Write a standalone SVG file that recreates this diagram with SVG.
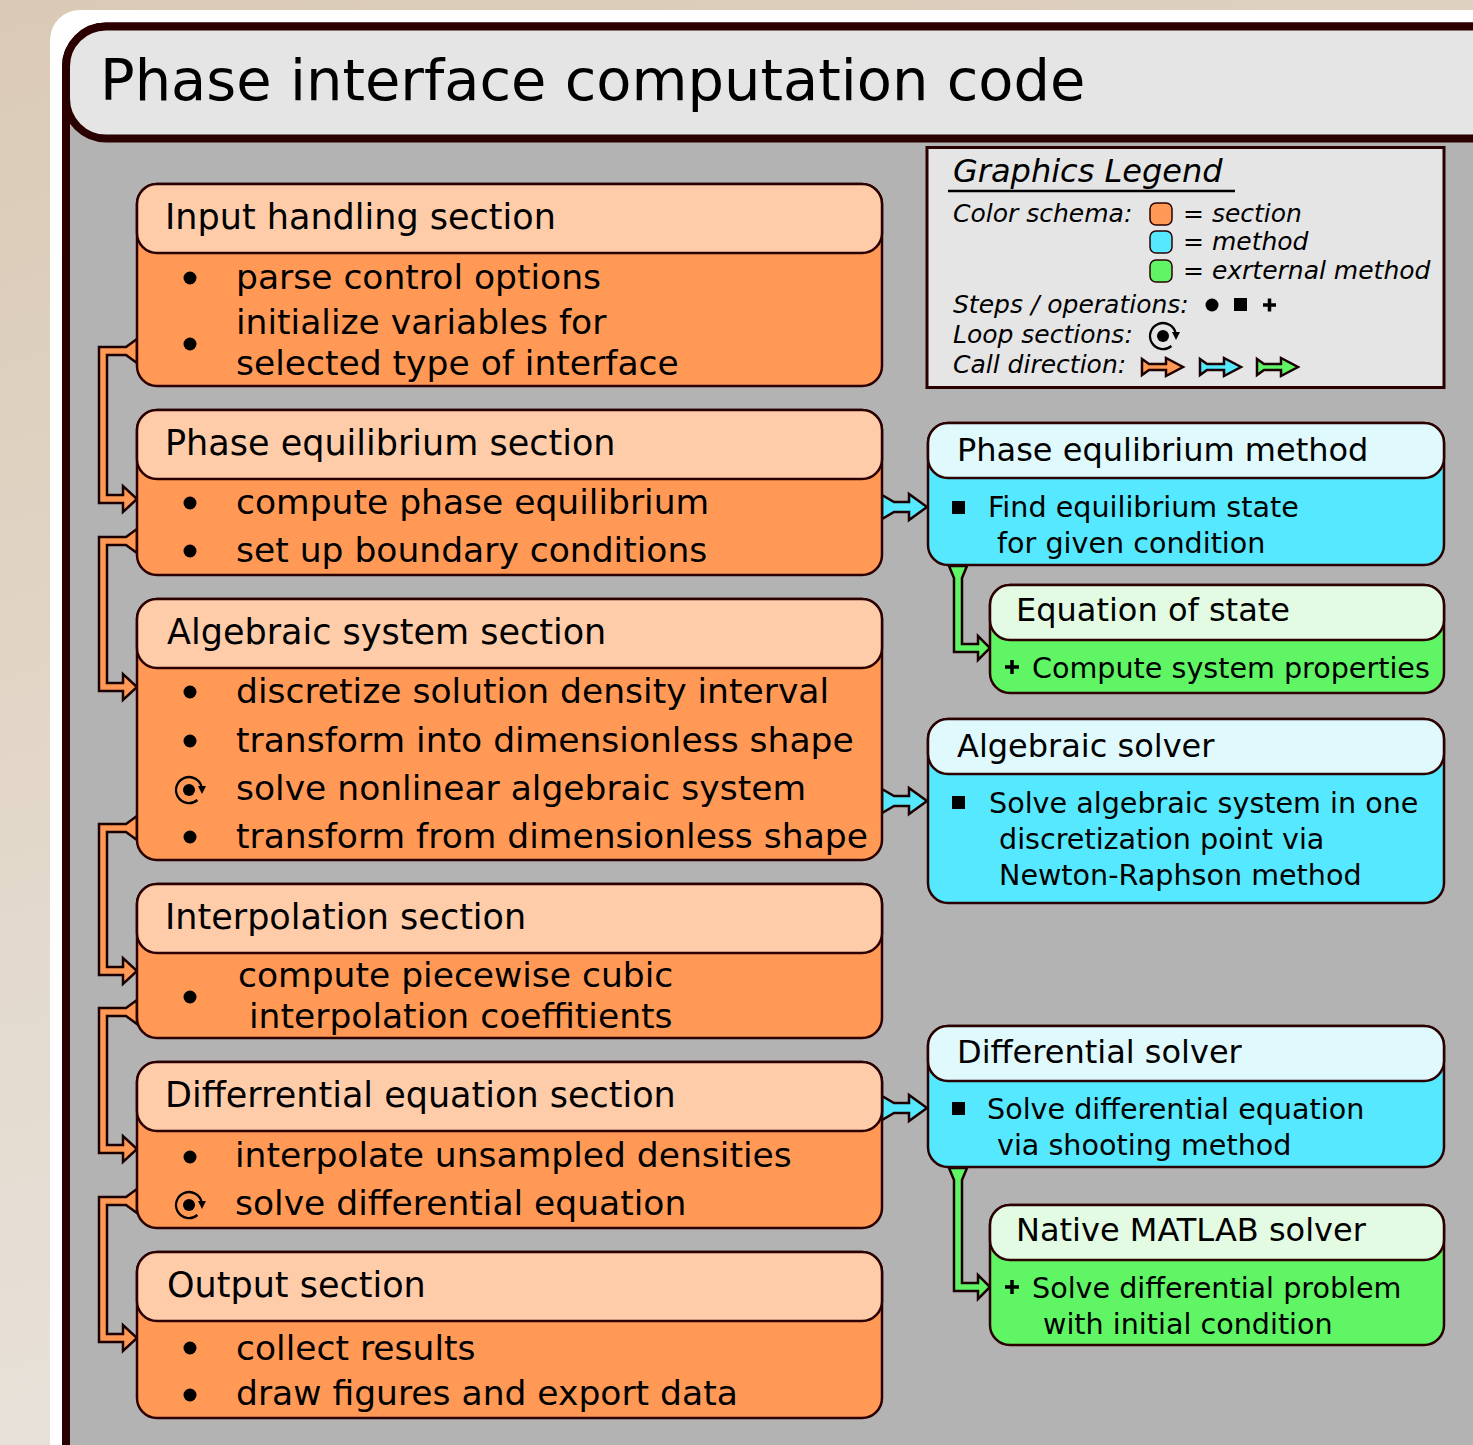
<svg xmlns="http://www.w3.org/2000/svg" xmlns:xlink="http://www.w3.org/1999/xlink" width="1473" height="1445" viewBox="0 0 1473 1445">
<defs>
<linearGradient id="bg" x1="0" y1="0" x2="0.3" y2="1">
<stop offset="0" stop-color="#dacab5"/>
<stop offset="1" stop-color="#e9e3dc"/>
</linearGradient>
<g id="loop">
<circle cx="0" cy="0" r="6" fill="#000"/>
<path d="M 8.4 10 A 13 13 0 1 1 12.8 -2.3" fill="none" stroke="#000" stroke-width="2.3"/>
<path d="M 9 -4 L 17 -4 L 13 4 Z" fill="#000"/>
</g>
<style>
text{font-family:"DejaVu Sans","Liberation Sans",sans-serif;fill:#000}
.title{font-size:57.5px}
.sh{font-size:35px}
.sb{font-size:34.5px}
.mh{font-size:32px}
.mb{font-size:28.6px}
.lg{font-size:25px;font-style:italic}
.lgt{font-size:32px;font-style:italic}
.box{stroke:#2b0000;stroke-width:2.5}
.sec{fill:#ff9955}
.sech{fill:#ffccaa}
.met{fill:#55e8ff}
.meth{fill:#dff9fd}
.ext{fill:#5ff564}
.exth{fill:#e3fbe2}
.oc{fill:#ff9955;stroke:#1a0000;stroke-width:2.5;stroke-linejoin:miter}
.cc{fill:#55e8ff;stroke:#1a0000;stroke-width:2.5}
.gc{fill:#5ff564;stroke:#1a0000;stroke-width:2.5}
</style>
</defs>
<rect x="0" y="0" width="1473" height="1445" fill="url(#bg)"/>
<rect x="50" y="10" width="1500" height="1500" rx="30" fill="#ffffff"/>
<rect x="66" y="26.5" width="1500" height="1500" rx="40" fill="#b3b3b3" stroke="#2b0000" stroke-width="8"/>
<g id="titlebar">
<rect x="66" y="26.5" width="1500" height="112" rx="40" fill="#e5e5e5" stroke="#2b0000" stroke-width="8"/>
<text class="title" x="100" y="100">Phase interface computation code</text>
</g>

<g id="legend">
<rect x="927" y="147.5" width="517" height="240" fill="#e5e5e5" stroke="#2b0000" stroke-width="3"/>
<text class="lgt" x="953" y="182">Graphics Legend</text>
<line x1="948" y1="191" x2="1235" y2="191" stroke="#000" stroke-width="2.5"/>
<text class="lg" x="953" y="222">Color schema:</text>
<rect x="1150" y="203" width="22" height="22" rx="6" fill="#ff9955" stroke="#2b0000" stroke-width="1.5"/>
<text class="lg" x="1183" y="222">= section</text>
<rect x="1150" y="231" width="22" height="22" rx="6" fill="#55e8ff" stroke="#2b0000" stroke-width="1.5"/>
<text class="lg" x="1183" y="250">= method</text>
<rect x="1150" y="260" width="22" height="22" rx="6" fill="#5ff564" stroke="#2b0000" stroke-width="1.5"/>
<text class="lg" x="1183" y="279">= exrternal method</text>
<text class="lg" x="953" y="313">Steps / operations:</text>
<circle cx="1212" cy="305" r="6.5" fill="#000"/>
<rect x="1234" y="298" width="13" height="13" fill="#000"/>
<path d="M 1263 305 H 1276 M 1269.5 298.5 V 311.5" stroke="#000" stroke-width="3.5"/>
<text class="lg" x="953" y="343">Loop sections:</text>
<use xlink:href="#loop" href="#loop" x="1163" y="336"/>
<text class="lg" x="953" y="373">Call direction:</text>
<polygon class="oc" stroke-width="2" points="1142,359 1149,364 1166,364 1166,358 1183,367 1166,376 1166,370 1149,370 1142,375"/>
<polygon class="cc" stroke-width="2" points="1200,359 1207,364 1224,364 1224,358 1241,367 1224,376 1224,370 1207,370 1200,375"/>
<polygon class="gc" stroke-width="2" points="1257,359 1264,364 1281,364 1281,358 1298,367 1281,376 1281,370 1264,370 1257,375"/>
</g>

<g id="connectors">
<polygon class="oc" points="137,339 126,347 99,347 99,503 123,503 123,512 137,499 123,486 123,495 107,495 107,355 126,355 137,363"/>
<polygon class="oc" points="137,529 126,537 99,537 99,691 123,691 123,700 137,687 123,674 123,683 107,683 107,545 126,545 137,553"/>
<polygon class="oc" points="137,816 126,824 99,824 99,975 123,975 123,984 137,971 123,958 123,967 107,967 107,832 126,832 137,840"/>
<polygon class="oc" points="137,1000 126,1008 99,1008 99,1153 123,1153 123,1162 137,1149 123,1136 123,1145 107,1145 107,1016 126,1016 137,1024"/>
<polygon class="oc" points="137,1189 126,1197 99,1197 99,1342 123,1342 123,1351 137,1338 123,1325 123,1334 107,1334 107,1205 126,1205 137,1213"/>
<polygon class="cc" points="882,495 894,502 909,502 909,494 927,507 909,520 909,512 894,512 882,519"/>
<polygon class="cc" points="882,789 894,796 909,796 909,788 927,801 909,814 909,806 894,806 882,813"/>
<polygon class="cc" points="882,1096 894,1103 909,1103 909,1095 927,1108 909,1121 909,1113 894,1113 882,1120"/>
<polygon class="gc" points="949,566 954,578 954,652 978,652 978,660 990,648 978,636 978,644 962,644 962,578 967,566"/>
<polygon class="gc" points="949,1168 954,1180 954,1291 978,1291 978,1299 990,1287 978,1275 978,1283 962,1283 962,1180 967,1168"/>
</g>

<g id="input-section">
<rect class="box sec" x="137" y="184" width="745" height="202" rx="20"/>
<rect class="box sech" x="137" y="184" width="745" height="69" rx="20"/>
<text class="sh" x="165" y="229">Input handling section</text>
<circle cx="190" cy="278" r="6.5" fill="#000"/>
<text class="sb" x="236" y="289">parse control options</text>
<circle cx="190" cy="344" r="6.5" fill="#000"/>
<text class="sb" x="236" y="334">initialize variables for</text>
<text class="sb" x="236" y="375">selected type of interface</text>
</g>

<g id="phase-equilibrium-section">
<rect class="box sec" x="137" y="410" width="745" height="165" rx="20"/>
<rect class="box sech" x="137" y="410" width="745" height="69" rx="20"/>
<text class="sh" x="165" y="455">Phase equilibrium section</text>
<circle cx="190" cy="503" r="6.5" fill="#000"/>
<text class="sb" x="236" y="514">compute phase equilibrium</text>
<circle cx="190" cy="551" r="6.5" fill="#000"/>
<text class="sb" x="236" y="562">set up boundary conditions</text>
</g>

<g id="algebraic-system-section">
<rect class="box sec" x="137" y="599" width="745" height="261" rx="20"/>
<rect class="box sech" x="137" y="599" width="745" height="69" rx="20"/>
<text class="sh" x="167" y="644">Algebraic system section</text>
<circle cx="190" cy="692" r="6.5" fill="#000"/>
<text class="sb" x="236" y="703">discretize solution density interval</text>
<circle cx="190" cy="741" r="6.5" fill="#000"/>
<text class="sb" x="236" y="752">transform into dimensionless shape</text>
<use xlink:href="#loop" href="#loop" x="189" y="790"/>
<text class="sb" x="236" y="800">solve nonlinear algebraic system</text>
<circle cx="190" cy="837" r="6.5" fill="#000"/>
<text class="sb" x="236" y="848">transform from dimensionless shape</text>
</g>

<g id="interpolation-section">
<rect class="box sec" x="137" y="884" width="745" height="154" rx="20"/>
<rect class="box sech" x="137" y="884" width="745" height="69" rx="20"/>
<text class="sh" x="165" y="929">Interpolation section</text>
<circle cx="190" cy="997" r="6.5" fill="#000"/>
<text class="sb" x="238" y="987">compute piecewise cubic</text>
<text class="sb" x="249" y="1028">interpolation coeffitients</text>
</g>

<g id="differential-equation-section">
<rect class="box sec" x="137" y="1062" width="745" height="166" rx="20"/>
<rect class="box sech" x="137" y="1062" width="745" height="69" rx="20"/>
<text class="sh" x="165" y="1107">Differrential equation section</text>
<circle cx="190" cy="1157" r="6.5" fill="#000"/>
<text class="sb" x="235" y="1167">interpolate unsampled densities</text>
<use xlink:href="#loop" href="#loop" x="189" y="1205"/>
<text class="sb" x="235" y="1215">solve differential equation</text>
</g>

<g id="output-section">
<rect class="box sec" x="137" y="1252" width="745" height="166" rx="20"/>
<rect class="box sech" x="137" y="1252" width="745" height="69" rx="20"/>
<text class="sh" x="167" y="1297">Output section</text>
<circle cx="190" cy="1348" r="6.5" fill="#000"/>
<text class="sb" x="236" y="1360">collect results</text>
<circle cx="190" cy="1395" r="6.5" fill="#000"/>
<text class="sb" x="236" y="1405">draw figures and export data</text>
</g>

<g id="phase-equilibrium-method">
<rect class="box met" x="928" y="423" width="516" height="142" rx="20"/>
<rect class="box meth" x="928" y="423" width="516" height="55" rx="20"/>
<text class="mh" x="957" y="461">Phase equlibrium method</text>
<rect x="952" y="501" width="13" height="13" fill="#000"/>
<text class="mb" x="988" y="517">Find equilibrium state</text>
<text class="mb" x="997" y="553">for given condition</text>
</g>

<g id="equation-of-state">
<rect class="box ext" x="990" y="585" width="454" height="108" rx="20"/>
<rect class="box exth" x="990" y="585" width="454" height="55" rx="20"/>
<text class="mh" x="1016" y="621">Equation of state</text>
<path d="M 1005 667 H 1019 M 1012 660 V 674" stroke="#000" stroke-width="3.5"/>
<text class="mb" x="1032" y="678">Compute system properties</text>
</g>

<g id="algebraic-solver">
<rect class="box met" x="928" y="719" width="516" height="184" rx="20"/>
<rect class="box meth" x="928" y="719" width="516" height="55" rx="20"/>
<text class="mh" x="957" y="757">Algebraic solver</text>
<rect x="952" y="796" width="13" height="13" fill="#000"/>
<text class="mb" x="989" y="813">Solve algebraic system in one</text>
<text class="mb" x="999" y="849">discretization point via</text>
<text class="mb" x="999" y="885">Newton-Raphson method</text>
</g>

<g id="differential-solver">
<rect class="box met" x="928" y="1026" width="516" height="141" rx="20"/>
<rect class="box meth" x="928" y="1026" width="516" height="55" rx="20"/>
<text class="mh" x="957" y="1063">Differential solver</text>
<rect x="952" y="1102" width="13" height="13" fill="#000"/>
<text class="mb" x="987" y="1119">Solve differential equation</text>
<text class="mb" x="997" y="1155">via shooting method</text>
</g>

<g id="native-matlab-solver">
<rect class="box ext" x="990" y="1205" width="454" height="140" rx="20"/>
<rect class="box exth" x="990" y="1205" width="454" height="55" rx="20"/>
<text class="mh" x="1016" y="1241">Native MATLAB solver</text>
<path d="M 1005 1287 H 1019 M 1012 1280 V 1294" stroke="#000" stroke-width="3.5"/>
<text class="mb" x="1032" y="1298">Solve differential problem</text>
<text class="mb" x="1043" y="1334">with initial condition</text>
</g>
</svg>
